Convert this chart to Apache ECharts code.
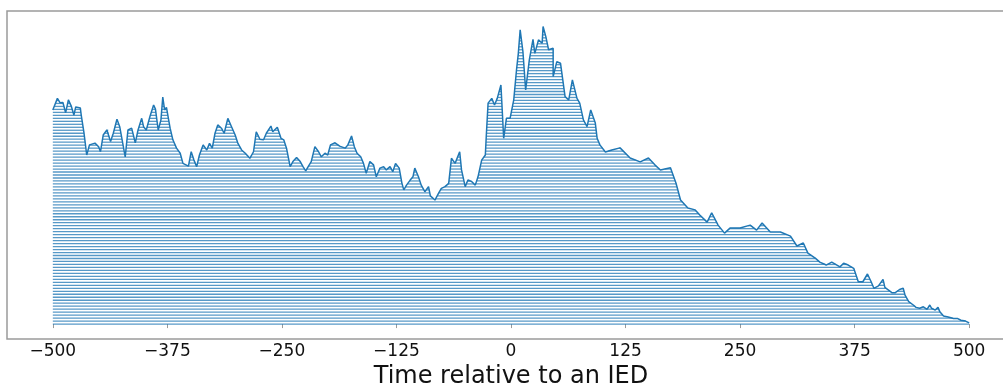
<!DOCTYPE html>
<html>
<head>
<meta charset="utf-8">
<script src="https://cdn.jsdelivr.net/npm/echarts@6/dist/echarts.min.js"></script>
<style>html,body{margin:0;padding:0;background:#fff;}#c{width:1003px;height:383px;}</style>
</head>
<body>
<div id="c"></div>
<script>
// Envelope of the stacked horizontal lines: time (ms relative to IED) and level (line index)
const times = [-500,-495,-492,-489,-486,-483,-480,-477,-475,-470,-469,-466,-463,-460,-454,-450,-448,-445,-441,-440,-437,-434,-430,-427,-421,-418,-414,-410,-407,-403,-401,-398,-394,-390,-388,-385,-382,-380,-378,-376,-372,-369,-365,-361,-358,-352,-349,-346,-343,-340,-336,-332,-329,-326,-323,-320,-316,-313,-309,-305,-301,-298,-294,-290,-285,-281,-278,-274,-270,-267,-262,-260,-255,-251,-248,-245,-241,-238,-234,-230,-227,-224,-221,-218,-214,-210,-207,-203,-200,-197,-192,-187,-181,-178,-174,-171,-168,-164,-161,-158,-154,-150,-147,-143,-139,-136,-132,-129,-126,-122,-119,-117,-114,-110,-107,-105,-101,-98,-94,-90,-88,-83,-79,-76,-72,-68,-65,-61,-56,-54,-50,-47,-43,-39,-36,-32,-28,-27,-25,-21,-18,-15,-11,-8,-5,-1,3,6,8,10,13,16,20,24,26,30,34,35,38,41,46,46,50,54,59,63,67,72,75,79,83,87,92,94,97,103,110,119,130,141,150,157,163,174,180,185,193,201,206,214,219,226,233,239,250,261,268,274,283,294,305,312,319,324,332,337,344,350,359,363,368,374,379,384,389,393,396,401,406,408,412,416,419,424,428,430,434,439,442,446,450,454,457,459,463,466,468,472,477,483,487,491,496,500];
const levels = [71.8,75.7,74.2,74.3,70.9,75.2,73.2,70.1,72.8,72.5,70.1,64.1,56.7,60.1,60.7,59.5,57.8,63.4,65.1,65.7,61.2,64.0,68.7,66.2,56.1,65.1,65.7,60.8,65.1,69.0,66.2,65.1,69.6,73.5,72.1,65.1,68.5,76.1,71.8,72.7,65.7,61.8,59.0,57.3,53.9,53.0,57.8,55.0,52.8,56.7,60.1,58.4,60.6,59.0,64.0,66.8,65.7,64.0,69.0,66.2,63.4,60.6,58.4,57.3,55.6,57.8,64.5,62.0,61.8,64.0,66.4,64.5,66.0,62.3,61.8,59.0,52.8,54.5,55.9,54.5,52.8,51.4,53.0,54.5,59.5,57.8,56.1,57.3,56.7,60.1,60.8,59.7,59.0,60.1,63.1,59.5,57.3,56.1,53.9,50.6,54.5,53.4,49.4,52.3,52.8,51.7,52.8,51.1,53.9,52.3,47.2,45.0,46.6,48.3,49.4,52.3,49.4,46.6,44.4,46.1,43.0,41.6,43.9,45.5,46.1,47.2,55.6,53.9,57.8,51.7,46.1,48.3,47.8,46.6,49.4,55.0,56.7,62.9,74.1,75.7,73.5,75.7,80.2,62.3,69.0,69.0,75.2,85.2,90.8,98.7,91.4,78.5,88.6,95.5,90.8,95.3,94.2,99.8,96.4,92.0,92.5,83.0,88.0,87.5,76.3,75.2,81.9,75.7,74.1,68.5,66.2,71.8,67.4,62.3,60.1,57.7,58.4,59.1,55.7,54.4,55.7,53.4,51.7,52.4,47.3,41.6,38.9,38.3,36.6,34.2,37.3,33.2,30.5,32.2,32.2,33.2,31.5,33.9,30.9,30.9,29.5,26.2,27.2,23.8,22.1,20.8,19.8,20.8,19.2,20.4,19.8,18.7,14.2,14.2,16.8,14.2,12.0,12.8,15.0,12.3,11.4,10.5,10.5,11.6,12.0,9.7,7.5,6.4,5.6,5.3,5.8,4.9,6.4,5.3,4.7,5.6,4.1,2.7,2.4,1.9,1.9,1.3,1.0,0.4];
const lineCount = 100;
const tickValues = [-500,-375,-250,-125,0,125,250,375,500];
const xLabel = 'Time relative to an IED';

const envelope = times.map((t, i) => [t, levels[i]]);

// horizontal line segments at each integer level, clipped under the envelope
const segments = [];
for (let k = 0; k < lineCount; k++) {
  let cur = null;
  for (let i = 0; i < times.length - 1; i++) {
    const t0 = times[i], t1 = times[i + 1], L0 = levels[i], L1 = levels[i + 1];
    let a = null, b = null;
    if (L0 >= k && L1 >= k) { a = t0; b = t1; }
    else if (L0 >= k && L1 < k) { a = t0; b = t0 + (k - L0) / (L1 - L0) * (t1 - t0); }
    else if (L0 < k && L1 >= k) { a = t0 + (k - L0) / (L1 - L0) * (t1 - t0); b = t1; }
    if (a === null) { if (cur) { segments.push(cur); cur = null; } continue; }
    if (cur && Math.abs(cur[1] - a) < 1e-9) cur[1] = b;
    else { if (cur) segments.push(cur); cur = [a, b, k]; }
  }
  if (cur) segments.push(cur);
}

const chart = echarts.init(document.getElementById('c'), null, {renderer: 'canvas'});
const FONT = 'DejaVu Sans';
chart.setOption({
  animation: false,
  backgroundColor: '#fff',
  grid: {left: 7, right: -12, top: 11, bottom: 44, containLabel: false, outerBoundsMode: 'none',
    show: true, borderColor: '#9a9a9a', borderWidth: 1.5, backgroundColor: 'transparent'},
  xAxis: {
    type: 'value', min: -550, max: 550,
    name: xLabel, nameLocation: 'middle', nameGap: 21,
    nameTextStyle: {fontFamily: FONT, fontSize: 24, color: '#111'},
    axisLine: {show: false},
    splitLine: {show: false},
    axisTick: {show: true, length: 4, lineStyle: {color: '#9a9a9a', width: 1}, customValues: tickValues},
    axisLabel: {fontFamily: FONT, fontSize: 17, color: '#111', margin: 4, customValues: tickValues,
      formatter: v => String(v).replace('-', '\u2212')}
  },
  yAxis: {type: 'value', min: -5, max: 105, show: false},
  series: [
    {
      type: 'custom',
      data: segments,
      encode: {x: [0, 1], y: 2},
      clip: true,
      renderItem: function (params, api) {
        const p0 = api.coord([api.value(0), api.value(2)]);
        const p1 = api.coord([api.value(1), api.value(2)]);
        return {type: 'line', shape: {x1: p0[0], y1: p0[1], x2: p1[0], y2: p1[1]},
          style: {stroke: '#1f77b4', lineWidth: 1.3, opacity: 0.75}};
      },
      z: 2
    },
    {
      type: 'line',
      data: envelope,
      showSymbol: false,
      lineStyle: {color: '#1f77b4', width: 1.5},
      z: 3
    }
  ]
});
</script>
</body>
</html>
